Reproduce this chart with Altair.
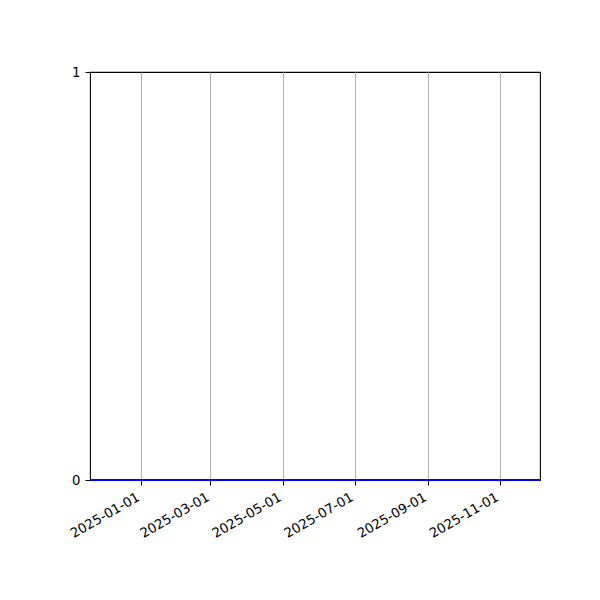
import altair as alt
import pandas as pd

dates = ["2024-11-19T00:00:00Z", "2025-12-05T00:00:00Z"]
values = [0, 0]
tick_dates = ["2025-01-01T00:00:00Z", "2025-03-01T00:00:00Z", "2025-05-01T00:00:00Z",
              "2025-07-01T00:00:00Z", "2025-09-01T00:00:00Z", "2025-11-01T00:00:00Z"]
tick_labels = ["2025-01-01", "2025-03-01", "2025-05-01", "2025-07-01", "2025-09-01", "2025-11-01"]

df = pd.DataFrame({"date": dates, "value": values})
ticks_df = pd.DataFrame({"date": tick_dates, "label": tick_labels})

x_scale = alt.Scale(
    type="utc",
    domain=[alt.DateTime(year=2024, month=11, date=19, utc=True),
            alt.DateTime(year=2025, month=12, date=5, utc=True)],
    nice=False,
)

line = alt.Chart(df).mark_line(color="#0000ff", strokeWidth=2, clip=False).encode(
    x=alt.X("date:T", scale=x_scale, title=None,
            axis=alt.Axis(values=[alt.DateTime(year=2025, month=m, date=1, utc=True) for m in (1, 3, 5, 7, 9, 11)],
                          labels=False, grid=True, gridColor="#b0b0b0", gridWidth=1,
                          tickColor="black", tickSize=5, domain=False)),
    y=alt.Y("value:Q", scale=alt.Scale(domain=[0, 1], nice=False), title=None,
            axis=alt.Axis(values=[0, 1], format="d", grid=False, tickColor="black", tickSize=5,
                          domain=False, labelPadding=5, labelFont="DejaVu Sans",
                          labelFontSize=13.3, labelColor="black")),
)

labels = alt.Chart(ticks_df).mark_text(
    angle=330, align="right", baseline="top", dx=-10, dy=6,
    font="DejaVu Sans", fontSize=13.3, color="black",
).encode(
    x=alt.X("date:T"),
    y=alt.datum(0),
    text="label:N",
)

chart = alt.layer(line, labels).properties(
    width=450, height=408,
    padding={"left": 82, "top": 64, "right": 20, "bottom": 100},
    autosize=alt.AutoSizeParams(type="none"),
    background="white",
).configure_view(stroke="black", strokeWidth=1.1)

chart.save("out.html", embed_options={"renderer": "svg", "actions": False})
